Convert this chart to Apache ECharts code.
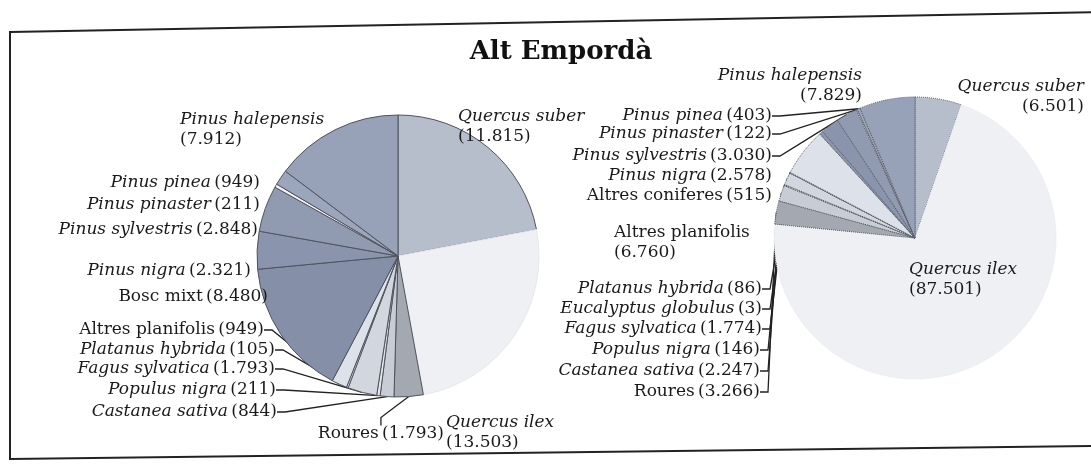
<!DOCTYPE html>
<html>
<head>
<meta charset="utf-8">
<script src="https://cdn.jsdelivr.net/npm/echarts@6/dist/echarts.min.js"></script>
<style>
  html, body { margin: 0; background: #fff; }
  #main { width: 1091px; height: 469px; }
</style>
</head>
<body>
<div id="main"></div>
<script>
// superficie per espècie, Alt Empordà (dos pastissos)
const namesLeft = ['Quercus suber', 'Quercus ilex', 'Roures', 'Castanea sativa', 'Populus nigra', 'Fagus sylvatica',
  'Platanus hybrida', 'Altres planifolis', 'Bosc mixt', 'Pinus nigra', 'Pinus sylvestris', 'Pinus pinaster',
  'Pinus pinea', 'Pinus halepensis']
const valuesLeft = [11815, 13503, 1793, 844, 211, 1793, 105, 949, 8480, 2321, 2848, 211, 949, 7912]

const namesRight = ['Quercus suber', 'Quercus ilex', 'Roures', 'Castanea sativa', 'Populus nigra', 'Fagus sylvatica',
  'Eucalyptus globulus', 'Platanus hybrida', 'Altres planifolis', 'Altres coniferes', 'Pinus nigra',
  'Pinus sylvestris', 'Pinus pinaster', 'Pinus pinea', 'Pinus halepensis']
const valuesRight = [6501, 87501, 3266, 2247, 146, 1774, 3, 86, 6760, 515, 2578, 3030, 122, 403, 7829]

// colours of the scan
const colorOf = {
  'Quercus suber': '#b6bdcb',
  'Quercus ilex': '#eef0f4',
  'Roures': '#a4a8b1',
  'Castanea sativa': '#c8ccd5',
  'Populus nigra': '#e3e5ea',
  'Fagus sylvatica': '#d2d6de',
  'Platanus hybrida': '#e8eaef',
  'Eucalyptus globulus': '#e8eaef',
  'Altres planifolis': '#dde1ea',
  'Altres coniferes': '#8b96ad',
  'Bosc mixt': '#8590a8',
  'Pinus nigra': '#8a95ad',
  'Pinus sylvestris': '#909bb2',
  'Pinus pinaster': '#f2f3f6',
  'Pinus pinea': '#9ba5bb',
  'Pinus halepensis': '#97a2b9'
}
const plainNames = ['Bosc mixt', 'Altres planifolis', 'Altres coniferes', 'Roures']
const faintNames = ['Quercus ilex']

// where each label sits [x, y, align]
const spotsLeft = {
  'Quercus suber': [458, 127, 'left'],
  'Pinus halepensis': [180, 130, 'left'],
  'Pinus pinea': [260, 183, 'right'],
  'Pinus pinaster': [260, 205, 'right'],
  'Pinus sylvestris': [258, 230, 'right'],
  'Pinus nigra': [251, 271, 'right'],
  'Bosc mixt': [268, 297, 'right'],
  'Altres planifolis': [264, 330, 'right'],
  'Platanus hybrida': [275, 350, 'right'],
  'Fagus sylvatica': [275, 369, 'right'],
  'Populus nigra': [276, 390, 'right'],
  'Castanea sativa': [277, 412, 'right'],
  'Roures': [444, 434, 'right'],
  'Quercus ilex': [446, 433, 'left']
}
const spotsRight = {
  'Pinus halepensis': [862, 86, 'right'],
  'Quercus suber': [1084, 97, 'right'],
  'Pinus pinea': [772, 116, 'right'],
  'Pinus pinaster': [772, 134, 'right'],
  'Pinus sylvestris': [772, 156, 'right'],
  'Pinus nigra': [772, 176, 'right'],
  'Altres coniferes': [772, 196, 'right'],
  'Altres planifolis': [614, 243, 'left'],
  'Platanus hybrida': [762, 289, 'right'],
  'Eucalyptus globulus': [762, 309, 'right'],
  'Fagus sylvatica': [762, 329, 'right'],
  'Populus nigra': [760, 350, 'right'],
  'Castanea sativa': [760, 371, 'right'],
  'Roures': [760, 392, 'right'],
  'Quercus ilex': [909, 280, 'left']
}
const twoLinesLeft = ['Quercus suber', 'Pinus halepensis', 'Quercus ilex']
const twoLinesRight = ['Quercus suber', 'Pinus halepensis', 'Quercus ilex', 'Altres planifolis']
const linesLeft = ['Altres planifolis', 'Platanus hybrida', 'Fagus sylvatica', 'Populus nigra', 'Castanea sativa', 'Roures']
const linesRight = ['Pinus pinea', 'Pinus pinaster', 'Pinus sylvestris', 'Platanus hybrida', 'Eucalyptus globulus',
  'Fagus sylvatica', 'Populus nigra', 'Castanea sativa', 'Roures']

const fmt = v => String(v).replace(/\B(?=(\d{3})+(?!\d))/g, '.')

const buildData = (names, values, twoLines, lines) => names.map((n, i) => ({
  name: n,
  value: values[i],
  itemStyle: faintNames.indexOf(n) >= 0
    ? { color: colorOf[n], borderColor: '#e6e8ed' }
    : { color: colorOf[n] },
  labelLine: { show: lines.indexOf(n) >= 0 },
  label: {
    formatter: (plainNames.indexOf(n) >= 0 ? '{p|' + n + '}' : '{i|' + n + '}') +
      (twoLines.indexOf(n) >= 0 ? '\n' : ' ') + '{p|(' + fmt(values[i]) + ')}'
  }
}))

const richText = {
  i: { fontFamily: 'DejaVu Serif', fontStyle: 'italic', fontSize: 17, color: '#1a1a1a', lineHeight: 20 },
  p: { fontFamily: 'DejaVu Serif', fontSize: 17, color: '#1a1a1a', lineHeight: 20 }
}

const pieSeries = (center, data, spots, dotted) => ({
  type: 'pie',
  center: center,
  radius: 141,
  startAngle: 90,
  clockwise: true,
  animation: false,
  silent: true,
  avoidLabelOverlap: false,
  itemStyle: { borderColor: '#4f535c', borderWidth: 1, borderType: dotted ? 'dotted' : 'solid' },
  label: { show: true, position: 'outside', rich: richText },
  labelLine: { show: true, length: 10, length2: 8, lineStyle: { color: '#222', width: 1.3 } },
  labelLayout: function (params) {
    const s = spots[data[params.dataIndex].name]
    return { x: s[0], y: s[1], align: s[2], verticalAlign: 'middle' }
  },
  data: data
})

var myChart = echarts.init(document.getElementById('main'))
var option = {
  backgroundColor: '#fff',
  title: {
    text: 'Alt Empordà',
    left: 556,
    top: 34,
    textAlign: 'center',
    textStyle: { fontFamily: 'DejaVu Serif', fontWeight: 'bold', fontSize: 26, color: '#111' }
  },
  graphic: [{
    type: 'polygon',
    shape: { points: [[10, 32], [1098, 12], [1098, 446], [10, 459]] },
    style: { fill: null, stroke: '#222', lineWidth: 2 },
    silent: true
  }],
  series: [
    pieSeries([398, 256], buildData(namesLeft, valuesLeft, twoLinesLeft, linesLeft), spotsLeft, false),
    pieSeries([915, 238], buildData(namesRight, valuesRight, twoLinesRight, linesRight), spotsRight, true)
  ]
}
myChart.setOption(option)
</script>
</body>
</html>
